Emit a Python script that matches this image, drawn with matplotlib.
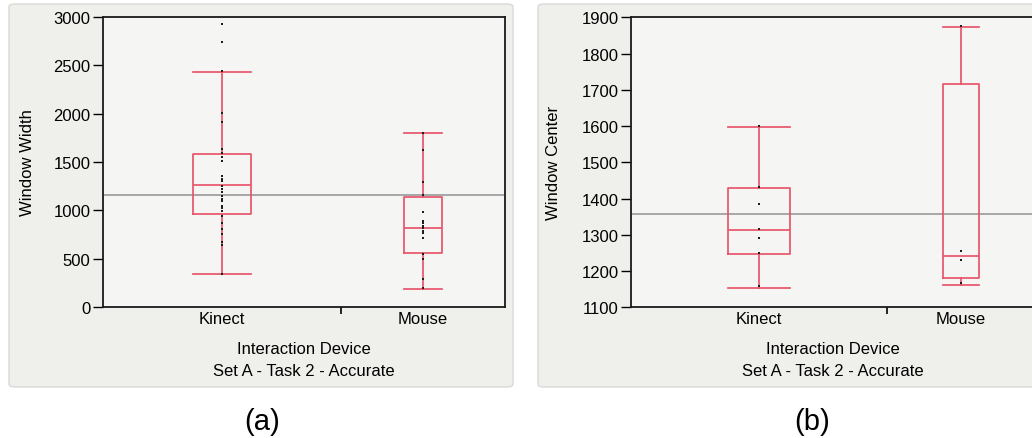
import matplotlib
matplotlib.use("Agg")
import matplotlib.pyplot as plt
from matplotlib.patches import FancyBboxPatch

plt.rcParams['font.family'] = ['Liberation Sans', 'DejaVu Sans']

# ---------------- data ----------------
categories = ["Kinect", "Mouse"]

# Panel (a): Window Width
a_ylabel = "Window Width"
a_ticks = [0, 500, 1000, 1500, 2000, 2500, 3000]
a_ylim = (0, 3000)
a_grand_mean = 1162
a_whislo = [341, 183]
a_q1 = [959, 559]
a_med = [1262, 814]
a_q3 = [1579, 1141]
a_whishi = [2431, 1797]
a_kinect_pts = [2925, 2738, 2445, 2004, 1911, 1634, 1593, 1549, 1507, 1358, 1324,
                 1300, 1255, 1221, 1187, 1152, 1117, 1093, 1048, 1021, 996, 944,
                 869, 807, 755, 669, 641, 341]
a_mouse_pts = [1800, 1624, 1296, 1159, 986, 893, 866, 841, 817, 789, 762, 714,
               548, 497, 290, 193]

# Panel (b): Window Center
b_ylabel = "Window Center"
b_ticks = [1100, 1200, 1300, 1400, 1500, 1600, 1700, 1800, 1900]
b_ylim = (1100, 1900)
b_grand_mean = 1357
b_whislo = [1153, 1162]
b_q1 = [1246, 1180]
b_med = [1313, 1242]
b_q3 = [1428, 1716]
b_whishi = [1597, 1872]
b_kinect_pts = [1601, 1431, 1384, 1316, 1292, 1250, 1158]
b_mouse_pts = [1877, 1256, 1230, 1167]

xlabel = "Interaction Device"
subtitle = "Set A - Task 2 - Accurate"

# ---------------- style ----------------
W, H = 1032, 439
RED = '#e9556b'
GREY = '#a6a6a6'
PANEL_BG = '#efefeb'
PANEL_EDGE = '#d9d9d5'
AX_BG = '#f5f5f4'

fig = plt.figure(figsize=(W / 100, H / 100), dpi=100)
fig.patch.set_facecolor('white')


def px_rect(x0, y0, x1, y1):
    return [x0 / W, 1 - y1 / H, (x1 - x0) / W, (y1 - y0) / H]


def panel(x0, y0, x1, y1):
    p = FancyBboxPatch((x0 / W, 1 - y1 / H), (x1 - x0) / W, (y1 - y0) / H,
                       boxstyle="round,pad=0,rounding_size=0.006",
                       transform=fig.transFigure, facecolor=PANEL_BG,
                       edgecolor=PANEL_EDGE, linewidth=1.0, zorder=-10)
    fig.add_artist(p)


def draw(rect, boundary, box_w, ylim, ticks, ylabel, grand_mean,
         whislo, q1, med, q3, whishi, pts_list, label_x):
    ax = fig.add_axes(rect)
    ax.set_zorder(1)
    ax.set_facecolor(AX_BG)
    pos = [boundary / 2, (1 + boundary) / 2]
    stats = []
    for i in range(2):
        stats.append(dict(med=med[i], q1=q1[i], q3=q3[i],
                          whislo=whislo[i], whishi=whishi[i], fliers=[]))
    ax.axhline(grand_mean, color=GREY, lw=1.4, zorder=1)
    props = dict(color=RED, linewidth=1.25)
    ax.bxp(stats, positions=pos, widths=box_w, capwidths=box_w,
           showfliers=False, boxprops=props, whiskerprops=props,
           capprops=props, medianprops=props, manage_ticks=False, zorder=2)
    for i, pts in enumerate(pts_list):
        ax.scatter([pos[i]] * len(pts), pts, s=3.5, marker='s', color='#1e1e1e',
                   linewidths=0, zorder=3)
    ax.set_xlim(0, 1)
    ax.set_ylim(*ylim)
    ax.set_yticks(ticks)
    ax.tick_params(axis='y', length=7, width=1.0, pad=2, labelsize=12)
    ax.set_xticks(pos)
    ax.set_xticklabels(categories)
    ax.tick_params(axis='x', which='major', length=0, pad=3, labelsize=12)
    ax.set_xticks([boundary], minor=True)
    ax.tick_params(axis='x', which='minor', length=5, width=1.2, direction='out')
    for s in ax.spines.values():
        s.set_color('#1a1a1a')
        s.set_linewidth(1.3)
    ax.set_ylabel(ylabel, fontsize=12)
    ax.yaxis.set_label_coords(label_x, 0.5)
    return ax


# Panel (a)
panel(9, 5, 513, 388)
axa = draw(px_rect(103, 18, 505, 308), 0.592, [0.144, 0.0945], a_ylim, a_ticks,
           a_ylabel, a_grand_mean, a_whislo, a_q1, a_med, a_q3, a_whishi,
           [a_kinect_pts, a_mouse_pts], -0.168)
fig.text(304 / W, 1 - 350 / H, xlabel, ha='center', va='center', fontsize=12, zorder=2)
fig.text(304 / W, 1 - 371 / H, subtitle, ha='center', va='center', fontsize=12, zorder=2)
fig.text(262 / W, 1 - 422 / H, "(a)", ha='center', va='center', fontsize=21, zorder=2)

# Panel (b)
panel(538, 5, 1045, 388)
axb = draw(px_rect(631, 18.3, 1035, 308.3), 0.633, [0.152, 0.089], b_ylim, b_ticks,
           b_ylabel, b_grand_mean, b_whislo, b_q1, b_med, b_q3, b_whishi,
           [b_kinect_pts, b_mouse_pts], -0.173)
fig.text(833 / W, 1 - 350 / H, xlabel, ha='center', va='center', fontsize=12, zorder=2)
fig.text(833 / W, 1 - 371 / H, subtitle, ha='center', va='center', fontsize=12, zorder=2)
fig.text(812 / W, 1 - 422 / H, "(b)", ha='center', va='center', fontsize=21, zorder=2)

fig.savefig("out.png", dpi=100, facecolor='white')
